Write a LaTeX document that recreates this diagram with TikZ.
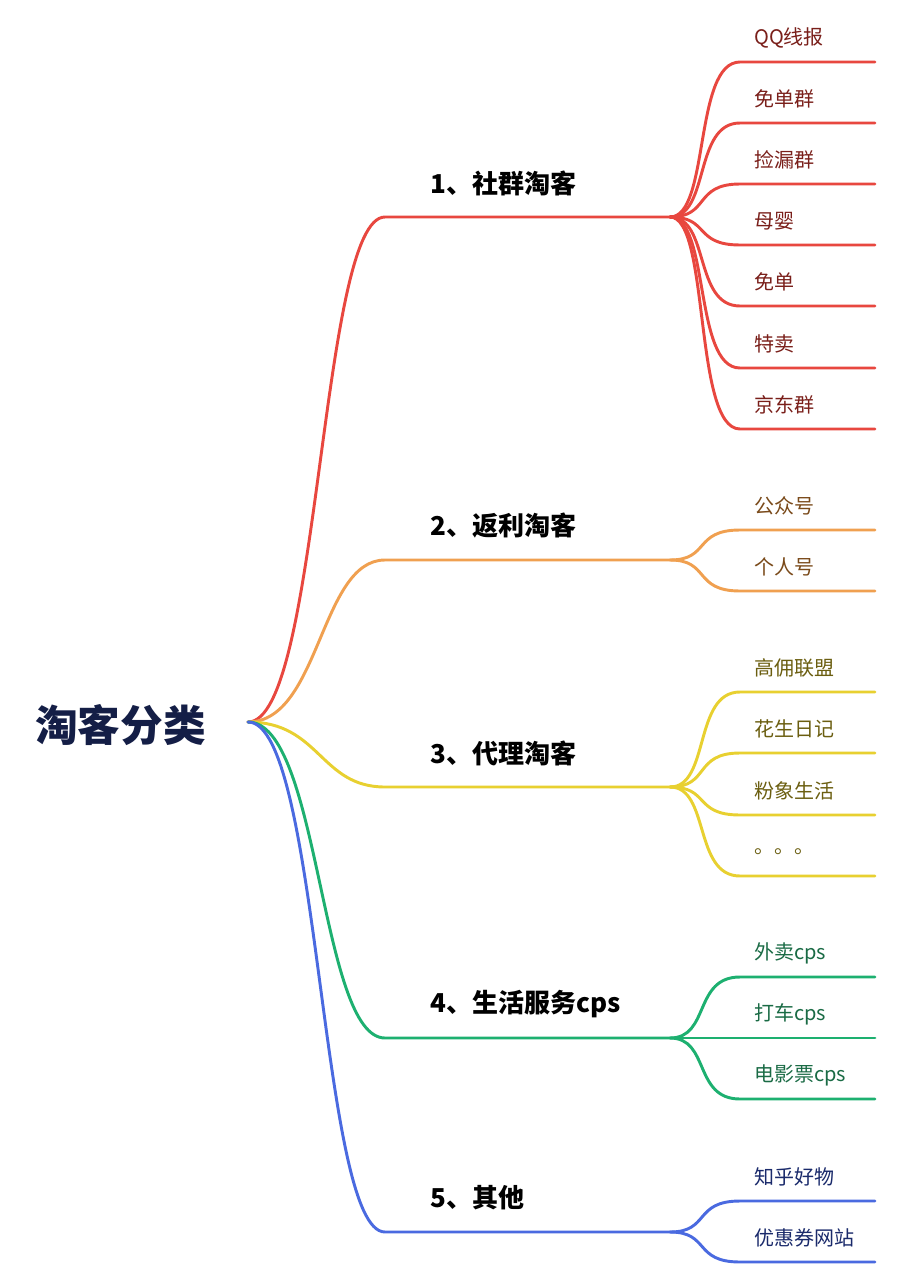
\documentclass[tikz,border=0pt]{standalone}
\usepackage{fontspec}
\setmainfont{Noto Sans CJK SC}
\definecolor{cR}{HTML}{E8473F}\definecolor{tR}{HTML}{7A1F1A}
\definecolor{cO}{HTML}{F0A050}\definecolor{tO}{HTML}{7A4A1A}
\definecolor{cY}{HTML}{E8D030}\definecolor{tY}{HTML}{6B5E10}
\definecolor{cG}{HTML}{1DB070}\definecolor{tG}{HTML}{1A6B45}
\definecolor{cB}{HTML}{4A6AE0}\definecolor{tB}{HTML}{1A2A6B}
\definecolor{navy}{HTML}{141E46}
\begin{document}
\begin{tikzpicture}[x=0.75pt,y=-0.75pt,
  edge/.style={line width=2.2pt,line cap=round},
  lone/.style={font=\bfseries\fontsize{19.5}{22}\selectfont,anchor=west,inner sep=0},
  ltwo/.style={font=\fontsize{15}{18}\selectfont,anchor=west,inner sep=0}]
\useasboundingbox[fill=white] (0,0) rectangle (901,1280);
\node[font=\bfseries\fontsize{32}{36}\selectfont,text=navy,anchor=west,inner sep=0] (root) at (35,725) {淘客分类};
\coordinate (r) at (248,722);
\foreach \n/\y/\t/\c in {a/217/{1、社群淘客}/cR, b/560/{2、返利淘客}/cO, c/787/{3、代理淘客}/cY, d/1038/{4、生活服务cps}/cG, e/1232/{5、其他}/cB}{
  \coordinate (\n s) at (385,\y);
  \coordinate (\n e) at (670,\y);
  \node[lone] (\n) at (430,\y-34) {\t};
  \draw[edge,\c] (r) .. controls (320,722) and (320,\y) .. (\n s) -- (\n e);
}
\foreach \n/\p/\y/\t/\c/\tc in {
 a1/a/62/QQ线报/cR/tR, a2/a/123/免单群/cR/tR, a3/a/184/捡漏群/cR/tR, a4/a/245/母婴/cR/tR, a5/a/306/免单/cR/tR, a6/a/368/特卖/cR/tR, a7/a/429/京东群/cR/tR,
 b1/b/530/公众号/cO/tO, b2/b/591/个人号/cO/tO,
 c1/c/692/高佣联盟/cY/tY, c2/c/753/花生日记/cY/tY, c3/c/815/粉象生活/cY/tY, c4/c/876/。。。/cY/tY,
 d1/d/977/外卖cps/cG/tG, d2/d/1038/打车cps/cG/tG, d3/d/1099/电影票cps/cG/tG,
 e1/e/1201/知乎好物/cB/tB, e2/e/1262/优惠券网站/cB/tB}{
  \coordinate (\n s) at (740,\y);
  \coordinate (\n e) at (875,\y);
  \node[ltwo,text=\tc] (\n) at (754,\y-24) {\t};
  \draw[edge,\c] (\p e) .. controls ([xshift=30pt]\p e) and ([xshift=-35pt]\n s) .. (\n s) -- (\n e);
}
\end{tikzpicture}
\end{document}
